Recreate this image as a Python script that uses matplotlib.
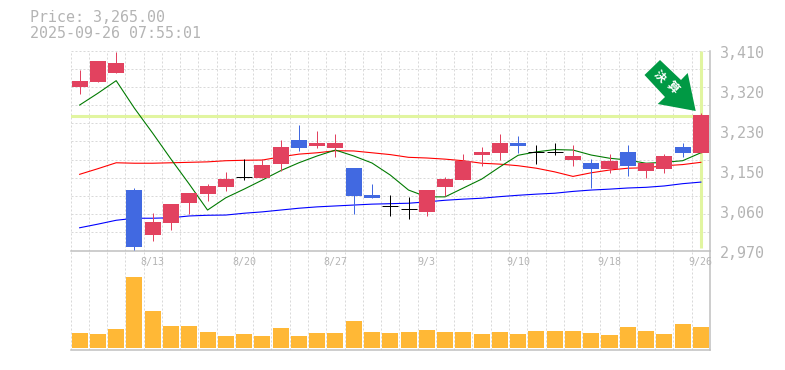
import matplotlib
matplotlib.use("Agg")
import matplotlib.pyplot as plt
from matplotlib.patches import Polygon, Rectangle
from matplotlib.transforms import IdentityTransform

W, H = 785, 370
opens = [3330,3341,3360.5,3103,3004,3030.5,3074.5,3094.5,3110,3131,3129.5,3160,3213,3200,3195.5,3151.5,3092,3068,3060.6,3055,3110,3125,3180,3184.5,3206.5,3187,3187,3169,3162.5,3149,3187,3145,3149,3198,3185]
highs = [3367,3387,3407,3108,3052.5,3072,3096.5,3116,3143,3171,3171,3213,3246,3233,3226,3151.5,3116,3092,3088,3103,3132,3182,3198,3226,3222,3202,3206.5,3202,3171,3182,3202,3162.5,3182,3206.5,3272]
lows = [3314,3341,3360.5,2972,2991,3015,3050,3079,3101,3125,3129.5,3145,3189,3195.5,3176,3050,3085.5,3046,3039,3046,3090,3125,3156,3169,3184.5,3160,3180,3156,3107,3140,3134,3129.5,3140,3176,3185]
closes = [3343,3387,3382.5,2978,3033,3072,3096.5,3112,3127,3131,3158,3198,3195.5,3206.5,3206.5,3090,3085.5,3068,3060.6,3103,3127,3167,3187,3206.5,3200,3187,3187,3178,3149,3167,3156,3162.5,3178,3184.5,3267]
ma_short = [3290,3316,3343.6,3283,3228,3171,3116,3059,3086,3105,3125,3145.6,3163,3178,3191,3178,3162.5,3136,3103,3088,3088,3107.5,3127,3154,3179.5,3187,3192,3191,3180,3173,3169,3162,3164,3167.5,3185]
ma_mid = [3137.6,3150,3163,3162,3162,3163,3164,3165,3167.5,3168.5,3169,3176,3182,3185,3189.5,3189,3185,3181,3175,3173.5,3171,3167.5,3162,3160,3156.5,3151,3143,3133,3141,3147,3151,3152,3156.5,3159,3164]
ma_long = [3020,3028,3036.5,3041,3041,3042,3046,3047.5,3048,3052,3055,3059,3063,3066,3068,3070,3072,3073,3074,3077,3080.5,3083,3085,3088.5,3091.5,3094,3096,3100,3103,3105,3107.5,3109,3112,3117,3120.5]
volumes = [15,14,19,71,37,22,22,16,12,14,12,20,12,15,15,27,16,15,16,18,16,16,14,16,14,17,17,17,15,13,21,17,14,24,21]
date_idx = [4,9,14,19,24,29,34]
date_labels = ["8/13","8/20","8/27","9/3","9/10","9/18","9/26"]
price_ticks = [3410,3322,3234,3146,3058,2970]
price_labels = ["3,410","3,320","3,230","3,150","3,060","2,970"]
last_price = 3267
title_lines = ["Price: 3,265.00","2025-09-26 07:55:01"]

RED, BLUE, BLACK = "#e2425f", "#4169e1", "#000000"
GRID, SPINE, TXT, HL = "#d9d9d9", "#c0c0c0", "#b4b4b4", "#e1f5a0"
MONO = "DejaVu Sans Mono"
n = len(closes)
PX = 0.72

fig = plt.figure(figsize=(W/100, H/100), dpi=100, facecolor="white")
def px_axes(l, t, r, b):
    return fig.add_axes([l/W, 1-b/H, (r-l)/W, (b-t)/H])
ax = px_axes(70.5, 50.5, 710, 250.5)
av = px_axes(70.5, 250.5, 710, 350)

for a in (ax, av):
    a.patch.set_visible(False)
    a.set_xlim(-0.5, n-0.5)
    a.set_xticks([i+0.5 for i in range(-1, n-1)])
    a.tick_params(length=0, labelbottom=False, labelleft=False)
    a.grid(True, axis="x", color=GRID, lw=PX, ls=(0,(2,2)))
    a.set_axisbelow(True)
    for s in a.spines.values():
        s.set_visible(False)
    a.spines["right"].set_visible(True); a.spines["right"].set_color(SPINE); a.spines["right"].set_linewidth(1.1)
    a.spines["bottom"].set_visible(True); a.spines["bottom"].set_color(SPINE); a.spines["bottom"].set_linewidth(1.1)

ax.set_ylim(2970, 3410)
ax.set_yticks(range(2970, 3411, 40))
ax.grid(True, axis="y", color=GRID, lw=PX, ls=(0,(2,2)))
av.set_ylim(-1.6, 98)
av.set_yticks([])

ax.axhline(last_price, color=HL, lw=2.2, zorder=1.5)
ax.plot([n-1, n-1], [2975, 3410], color=HL, lw=2.2, zorder=1.5, solid_capstyle="butt")

xs = list(range(n))
ax.plot(xs, ma_long, color="#0000ff", lw=PX*1.1, zorder=2)
ax.plot(xs, ma_mid, color="#ff0000", lw=PX*1.1, zorder=2)
ax.plot(xs, ma_short, color="#007a00", lw=PX*1.1, zorder=2)

bw = 16/18.23
for i, (o, h, l, c) in enumerate(zip(opens, highs, lows, closes)):
    col = BLACK if o == c else (RED if c > o else BLUE)
    ax.plot([i, i], [l, h], color=col, lw=PX, zorder=3, solid_capstyle="butt")
    if o == c:
        ax.plot([i-bw/2, i+bw/2], [o, o], color=col, lw=PX, zorder=3, solid_capstyle="butt")
    else:
        ax.add_patch(Rectangle((i-bw/2, min(o, c)), bw, abs(c-o), fc=col, ec="none", zorder=3))

av.bar(xs, volumes, width=bw, color="#ffb836", zorder=3)

for i, t in zip(date_idx, date_labels):
    av.annotate(t, xy=(i, 1), xycoords=("data", "axes fraction"), xytext=(0, -11.5*PX),
                textcoords="offset points", ha="center", va="center",
                family=MONO, fontsize=7.2, color=TXT, annotation_clip=False, zorder=6)
for v, t in zip(price_ticks, price_labels):
    ax.annotate(t, xy=(1, v), xycoords=("axes fraction", "data"), xytext=(10*PX, -2.5*PX),
                textcoords="offset points", ha="left", va="center",
                family=MONO, fontsize=10.8, color=TXT, annotation_clip=False)

fig.text(30/W, 1-18/H, title_lines[0], family=MONO, fontsize=10.8, color=TXT, va="center")
fig.text(30/W, 1-33/H, title_lines[1], family=MONO, fontsize=10.8, color=TXT, va="center")

arrow_px = [(660,60),(644.5,75),(665,97),(657.7,104),(695.7,111),(687.7,73),(681,80)]
fig.add_artist(Polygon([(x, H-y) for x, y in arrow_px], closed=True, fc="#009944", ec="none",
                       transform=IdentityTransform(), zorder=7))
fig.text(660/W, 1-76/H, "決", family="Noto Sans CJK JP", fontsize=8.5, fontweight="bold", color="white",
         rotation=-45, ha="center", va="center", zorder=8)
fig.text(672.5/W, 1-88/H, "算", family="Noto Sans CJK JP", fontsize=8.5, fontweight="bold", color="white",
         rotation=-45, ha="center", va="center", zorder=8)

fig.savefig("out.png", dpi=100)
